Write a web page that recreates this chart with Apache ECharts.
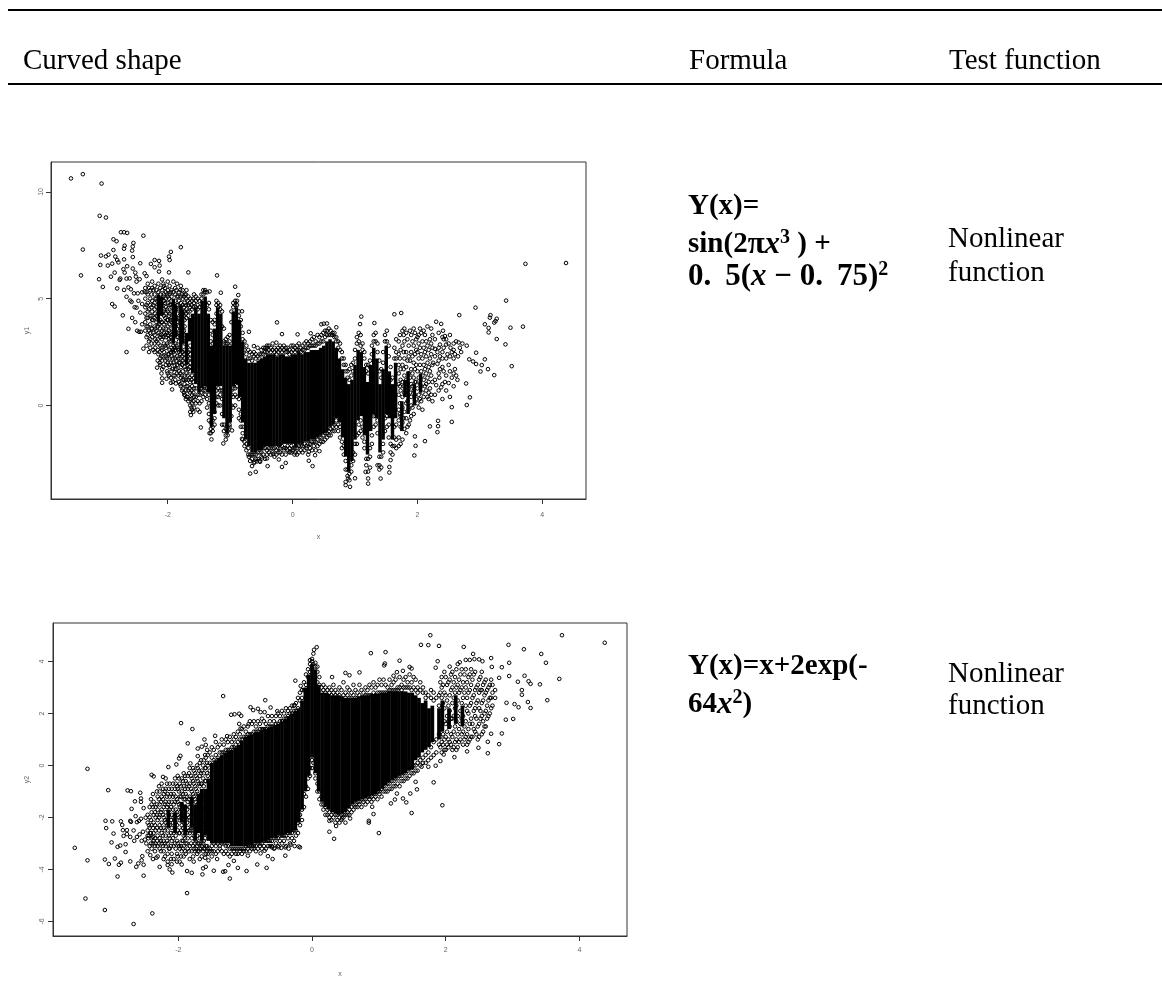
<!DOCTYPE html>
<html><head><meta charset="utf-8">
<style>html,body{margin:0;padding:0;background:#fff}#c{width:1162px;height:983px}</style>
<script src="https://cdn.jsdelivr.net/npm/echarts@6/dist/echarts.min.js"></script></head>
<body><div id="c"></div>
<script>
const headers=['Curved shape','Formula','Test function'];
const xTicks=[-2,0,2,4];
const y1Ticks=[0,5,10];
const y2Ticks=[-6,-4,-2,0,2,4];

// Panel 1: outlying points, x,y pairs
const y1Outer=[-3.55,10.63,-3.36,10.83,-3.06,10.39,-3.09,8.88,-2.99,8.8,-3.36,7.3,-3.39,6.09,-2.75,8.11,-2.7,8.11,-2.65,8.08,-2.39,7.95,-2.87,7.78,-2.82,7.69,-1.79,7.41,-2.55,7.61,-2.56,7.44,-2.69,7.48,-2.7,7.34,-2.57,7.25,-2.56,6.95,-2.87,7.28,-1.95,7.19,-1.98,6.97,-1.97,6.81,-3.07,7.02,-2.99,6.98,-2.95,7.06,-2.84,6.97,-2.7,6.84,-3.08,6.58,-2.96,6.55,-2.89,6.64,-2.81,6.81,-2.79,6.7,-2.44,6.66,-2.21,6.81,-2.14,6.77,-2.27,6.63,-2.13,6.55,-2.21,6.47,-2.14,6.27,-1.98,6.23,-1.67,6.23,-1.21,6.09,-0.92,5.56,-0.87,5.17,-1.15,5.28,-1.33,5.34,-2.65,6.52,-2.71,6.38,-2.56,6.41,-2.69,6.22,-2.85,6.22,-2.91,6.03,-3.1,5.91,-3.04,5.55,-2.81,5.48,-2.76,5.94,-2.77,5.88,-2.66,5.94,-2.61,5.95,-2.52,6.22,-2.51,6.03,-2.5,5.8,-2.45,5.91,-2.37,6.19,-2.34,6.06,-2.63,5.53,-2.59,5.44,-2.7,5.41,-2.54,5.25,-2.66,5.09,-2.6,4.91,-2.48,5.25,-2.41,5.3,-2.37,5.33,-2.5,4.58,-2.89,4.75,-2.85,4.63,-2.72,4.22,-2.63,3.59,-2.66,2.5,-2.39,2.66,-2.17,1.77,-2.09,1.27,-2.09,1.06,-2.02,1.25,-1.95,1.06,-1.93,0.75,-1.87,1.03,-1.73,0.48,-1.63,-0.45,-1.47,-1.03,-1.33,-1.3,-1.3,-1.59,-1.11,-1.78,-0.97,-1.17,-0.81,-1.56,-2.58,4.85,-2.53,4.6,-2.47,4.9,-2.44,4.35,-2.41,4.75,-2.57,4.1,-2.52,3.9,-2.49,3.5,-2.46,3.45,-2.43,3.45,-2.41,3.8];
const y1Bottom=[-0.68,-3.19,-0.59,-3.11,-0.65,-2.84,-0.61,-2.64,-0.57,-2.62,-0.52,-2.64,-0.4,-2.84,-0.49,-2.48,-0.31,-2.28,-0.22,-2.53,-0.17,-2.88,-0.11,-2.69,-0.05,-2.17,0.03,-2.3,-0.41,-2.48,-0.7,-2.4,0.26,-2.59,0.26,-2.17,0.32,-2.84,0.36,-2.33,0.43,-2.14,0.85,-3.58,0.85,-3.73,0.89,-3.42,0.92,-3.81,1,-3.41,1.21,-3.66,1.21,-3.42,1.41,-3.42,1.17,-3.11,1.24,-2.91,1.36,-2.8,1.39,-3,1.55,-3.14,1.55,-2.88,1.57,-2.56];
const y1Top=[-0.25,3.89,-0.17,3.34,0.08,3.33,-0.7,3.45,-0.62,2.78,-0.26,2.94,-0.41,2.7,-0.81,4.41,0.46,3.8,0.5,3.83,0.55,3.84,0.7,3.66,0.29,3.38,1.08,3.81,1.1,4.16,1.31,3.86,1.63,4.27,1.74,4.33];
const y1Right=[4.38,6.67,3.73,6.63,3.42,4.91,2.93,4.58,2.67,4.23,2.3,3.92,3.17,4.23,3.16,4.11,3.27,4.06,3.25,3.95,3.23,3.88,3.08,3.8,3.14,3.63,3.14,3.42,3.49,3.64,3.69,3.69,3.27,3.11,3.41,2.86,3.51,1.84,3.23,1.42,3.13,1.7,3.08,2.16,3.03,1.89,3.01,1.59,2.94,2.47,2.79,2.8,2.83,2.16,2.89,2.06,2.94,1.94,2.78,1.03,2.84,0.38,2.79,0.02,2.55,-0.08,2.55,-0.77,2.33,-0.72,2.33,-0.97,2.32,-1.25,2.2,-0.98,2.12,-1.67,1.95,-2.34,1.97,-1.89,1.96,-1.45,2.38,3.82,2.41,3.5,2.44,3.25,2.42,3.1,2.46,2.85,2.5,2.9,2.53,2.7,2.58,2.9,2.62,3,2.66,2.95,2.68,2.7,2.7,2.5,2.72,2.9,2.65,2.3,2.6,2.4,2.55,2.5,2.48,2.4,2.42,2.7,2.36,2.85,2.4,2.2,2.36,2.3,2.32,2.5,2.28,2.65,2.25,2,2.32,1.95,2.36,1.7,2.42,1.6,2.5,1.9,2.6,1.7,2.62,1.4,2.64,1.2,2.55,1.3,2.5,1.05,2.44,1.1,2.38,0.85,2.35,1.3,2.3,0.95];

// Panel 1: strands of points, each row is x followed by the y of its points
const y1StrandsLeft=[
[-2.36,5.5,5,4.6,4.3,3.9,3.5],[-2.32,5.7,5.2,4.8,4.4,4.1,3.7,3.3],[-2.28,5.4,5,4.7,4.2,3.8,3.4,3.1,2.7],[-2.25,5.8,5.5,4.9,4.4,4,3.6,3.2],
[-2.21,5.6,5.2,4.8,4.5,4.1,3.7,3.3,2.9,2.5],[-2.18,5.4,5,4.6,4.2,3.9,3.5,3],[-2.15,5.7,5.3,3.8,3.4,2.9,2.4],[-2.12,5.5,5.2,4,3.6,3.2,2.8,2.2,1.9],
[-2.09,5.9,5.4,5,4.7,4.3,3.9,3.5,3.1,2.6,2.1,1.7],[-2.06,5.6,5.2,4.9,4.5,4.2,3.8,3.4,2.9,2.5],[-2.03,5.3,5,4.6,4.3,3.9,3.6,3.2,2.7,2.3,1.9],[-2,5.8,5.4,5.1,4.8,4.4,4,3.7,3.3,2.8,2.4,2,1.5],
[-1.97,5.6,5.2,4.7,4.3,3.8,3.4,3,2.6,2.2,1.8],[-1.94,5.4,5.1,4.9,4.6,4.4,4.1,3.9,3.6,3.3,3,2.7,2.3,1.6],[-1.91,5.8,5.3,2.8,2.5,2,1.4],[-1.88,5.5,5.2,4.9,2.9,2.6,2.2,1.7,1.2],
[-1.85,5.7,5.1,4.7,4.3,3.9,3.6,3.2,2.7,2.3,1.9,1.5],[-1.82,5.3,4.9,4.5,4.1,3.7,3.4,3,2.5,2,1.6,1.1],[-1.79,5.6,5.1,4.8,2.2,1.8,1.3,0.9],[-1.76,5.4,5,4.7,2.5,2.1,1.6,1.2,0.8],
[-1.73,5.2,4.8,4.4,4,3.7,3.3,2.9,2.6,2.2,1.8,1.4,1,0.5],[-1.7,5.4,5,4.5,4.1,1.5,0.9,0.4],[-1.67,5.1,4.7,4.2,2.5,2.1,1.7,1.2,0.7,0.2],[-1.64,5,4.6,2.8,2.4,2,1.6,1.1,0.6,0,-0.3],
[-1.61,4.9,4.5,1.4,0.9,0.5,0.1,-0.2],[-1.58,5.2,4.8,1.3,0.8,0.4,-0.1]];
const y1StrandsLeft2=[
[-2.34,5.3,4.7,4.1,3.7,3.2,2.8],[-2.3,5.5,4.5,3.5,3,2.5],[-2.26,5.2,4.6,4.2,3.6,2.9],[-2.23,5.4,4.7,4,3.4,2.6],[-2.2,5,4.3,3.6,3.1,2.7],[-2.16,3.7,3.1,2.6,2.1],[-2.13,3.8,3.3,2.5,2],[-2.1,3.9,3.3,2.7,2.3,1.5],
[-2.07,5.7,5.1,4.4,3.6,3.2,2.3,1.8],[-2.04,5.5,4.8,4.1,3.3,2.8,2.1],[-2.01,5.2,4.5,4,3.4,2.9,2.2,1.6],[-1.98,5,4.2,3.5,3.1,2.4,1.9,1.4],[-1.95,5.3,4.7,4,3.2,2.5,2,1.3],[-1.92,2.6,2.2,1.7,1.1],[-1.89,2.7,2.4,1.9,1.4],[-1.86,5.4,4.5,4.1,3.4,2.8,2.1,1.7],
[-1.83,5.1,4.7,3.9,3.2,2.6,2.2,1.4],[-1.8,5.4,2.4,2,1.5,1],[-1.77,5.2,2.3,1.9,1.4,0.7],[-1.74,5.1,4.6,4.2,3.5,3,2.4,2,1.2,0.6],[-1.71,5.2,4.7,4.3,1.7,1.2,0.7,0.3],[-1.68,4.9,4.4,2.3,1.9,1.4,0.9,0.4],[-1.65,4.8,4.4,2.6,2.2,1.8,1.3,0.8,0.3],[-1.62,4.7,1.2,0.7,0.3,-0.1],[-1.59,5,4.6,1.1,0.6,0.2,-0.3]];
const y1StrandsPillars=[
[-1.55,5.1,4.9,4.6,0.8,0.4,0.1],[-1.52,5,4.7,4.5,0.5,0.2,-0.2],[-1.49,4.9,4.6,0.5,0.1,-0.3],[-1.46,5.2,5,0.8,0.6,0.2],[-1.43,5.4,5.2,0.7,0.4,0.9],[-1.4,5.4,5.3,0.7,0.5],[-1.37,5.3,4.7,0.8,0.3,-0.1],[-1.34,4.8,4.5,0.5,0.1,-0.4,-0.7],
[-1.31,4,3.5,3,-1.1,-0.8,-1.3],[-1.28,3.9,3.3,2.9,-1,-0.7,-1.2],[-1.25,4,3.8,-0.6,-0.3,-0.9],[-1.22,4.9,4.7,4.3,0.7,0.1,0.4],[-1.19,4.8,4.6,0.8,0.4,0],[-1.16,4.7,4.5,0.7,0.5,0],[-1.13,4.4,3.7,0.7,0.3,-0.4,-0.9],[-1.1,3.6,3,2.9,-0.9,-1.2],
[-1.07,3.1,2.9,-1.4,-1.1,-1.6],[-1.04,3.2,2.9,-1.4,-1,-1.2],[-1.01,3.3,3,2.8,-1,-0.7,-0.9],[-0.98,4.4,3.9,0.7,0.5,0,-0.5],[-0.95,4.8,4.6,0.8,0.4,-0.1],[-0.92,4.9,4.7,0.8,0.5,0],[-0.89,4.9,4.7,0.9,0.4],[-0.86,4.4,4.2,0.3,-0.2,-0.6],[-0.83,4,3.7,-0.7,-1,-0.4]];
const y1StrandsCentre=[
[-0.8,3.4,3.1,-1,-1.3,-1.6],[-0.77,3,2.6,-1.7,-1.9],[-0.74,2.8,2.4,-1.8,-2.1],[-0.71,2.6,2.2,-2,-2.3],[-0.68,2.5,2.2,-2.3,-2.6],[-0.65,2.4,2.1,-2.3,-2.5],[-0.62,2.3,2.5,-2.3,-2.7],[-0.59,2.4,2.2,-2.3,-2.5],
[-0.56,2.7,2.3,-2.2,-2.5],[-0.53,2.4,2.2,-2.2,-2.6],[-0.5,2.6,2.4,-2.2,-2.4],[-0.47,2.7,2.4,-2,-2.3],[-0.44,2.5,2.7,-2,-2.5],[-0.41,2.8,2.5,-2.1,-2.3],[-0.38,2.6,2.8,-2,-2.2],[-0.35,2.5,2.7,-2,-2.3],
[-0.32,2.9,2.6,-2,-2.2],[-0.29,2.7,2.5,-2,-2.4],[-0.26,2.6,2.4,-2.1,-2.3],[-0.23,2.5,2.7,-2,-2.2],[-0.2,2.6,2.8,-2,-2.2],[-0.17,2.7,2.5,-1.9,-2.3],[-0.14,2.6,2.8,-2,-2.1],[-0.11,2.5,2.7,-2,-2.3],
[-0.08,2.7,2.5,-1.9,-2.1],[-0.05,2.6,2.4,-2,-2.2],[-0.02,2.8,2.5,-1.9,-2.2],[0.01,2.6,2.8,-2,-2.1],[0.04,2.5,2.7,-2,-2.2],[0.07,2.8,2.6,-2,-2.3],[0.1,2.6,2.9,-1.9,-2.2],[0.13,2.7,2.5,-1.9,-2.1],
[0.16,2.8,2.6,-1.9,-2.2],[0.19,2.6,2.9,-1.8,-2.1],[0.22,2.7,3,-1.9,-2],[0.25,2.7,2.9,-1.8,-2.3],[0.28,2.8,3,-1.8,-2],[0.31,2.8,3.1,-1.7,-2.1],[0.34,2.8,3.2,-1.7,-1.9],[0.37,2.8,3,-1.7,-2.1],
[0.4,2.9,3.3,-1.6,-1.9],[0.43,2.9,3.2,-1.5,-1.8],[0.46,3,3.3,-1.5,-1.7],[0.49,3,3.4,-1.4,-1.7],[0.52,3.2,3.5,-1.3,-1.6],[0.55,3.3,3.5,-1.3,-1.5],[0.58,3.3,3.6,-1.2,-1.4],[0.61,3.3,3.5,-1.1,-1.4],
[0.64,3.3,3.4,-1,-1.2],[0.67,3.2,3.4,-0.9,-1.2],[0.7,3,3.2,-0.7,-1],[0.73,3,2.7,-0.9,-1.2],[0.76,2.6,2.9,-1,-1.5],[0.79,2.2,2.5,-1.7,-2],[0.82,1.9,2.2,-1.9,-2.3],[0.85,1.6,1.9,-2.6,-3],
[0.88,1.3,1.6,-3,-3.3],[0.91,1.2,1.7,-3.2,-3.5],[0.94,1.4,1.9,-2.8,-3.1],[0.97,1.6,2,-2.2,-2.6],[1,2.2,2.6,-1.8,-2.3],[1.03,2.9,3.2,-1.4,-1.8],[1.06,3,3.4,-0.9,-1.3],[1.09,2.8,3.3,-0.7,-1.2],
[1.12,2.9,2.6,-1,-1.5],[1.15,2.2,2.5,-1.7,-2],[1.18,1.6,1.9,-2.5,-2.8],[1.21,1.5,1.9,-2.5,-3.1],[1.24,1.8,2.1,-2,-2.4],[1.27,2.4,2.8,-1.4,-1.8],[1.3,3,3.3,-0.5,-1],[1.33,3,3.4,-0.5,-0.9],
[1.36,2.5,2.9,-0.7,-1.3],[1.39,1.6,2.1,-2.4,-2.8],[1.42,1.3,1.7,-2.4,-2.9],[1.45,2,2.5,-1.8,-2.2],[1.48,3,3.3,-0.6,-1.2],[1.51,3,3.5,-0.5,-1],[1.54,2.3,2.8,-0.9,-1.5],[1.57,1.2,1.8,-1.8,-2.2],
[1.6,0.7,1.3,-1.9,-2.3],[1.63,2.2,2.7,-1,-1.5,-1.9],[1.66,2.2,2.5,3.1,-0.9,-1.6,-2],[1.7,0.5,1,1.5,1.9,2.4,3,-0.2,-0.7,-1.5,-1.9],[1.73,0.7,1.2,1.7,2.6,-0.5,-1,-1.8],[1.76,0.4,1.1,1.9,2.8,3.5,-0.1,-0.8,-1.6],
[1.79,0.6,1.4,2.2,3,3.6,-0.3,-1.1],[1.82,0.5,1.2,1.8,2.5,3.4,0.1,-0.6,-1.3],[1.86,0.8,1.5,2.3,2.8,-0.2,-0.9],[1.9,0.4,1,1.7,2.5,3.3,0,-0.5],[1.94,0.7,1.3,2,2.8,3.6,-0.4],[1.98,0.3,1.1,1.9,2.6,3.1],
[2.02,0.5,1.3,2.2,2.9,3.3,-0.1],[2.06,0.9,1.6,2.4,3.4,0.2],[2.1,0.4,1.2,1.9,2.7,3.5],[2.14,0.7,1.5,2.3,3,1],[2.18,0.3,1.1,1.8,2.6,0.6],[2.22,0.5,1.4,2.4,2.9,3.6]];
const y1StrandsRight2=[
[1.72,0.1,0.9,2.2,3.3,-0.4],[1.78,0.9,1.7,2.5,3.3,-0.6],[1.84,0.2,1,2.1,3.1,-1],[1.88,0.6,1.3,2.1,3.5,-0.7],[1.92,0.9,1.5,2.3,3,-0.1],[1.96,0.5,1.1,1.7,2.4,3.4],[2,0.8,1.6,2.5,3.2,0.1],[2.04,0.3,1,1.9,2.7,3.6],
[2.08,0.6,1.4,2.2,3,-0.2],[2.12,0.9,1.7,2.5,3.3],[2.16,0.4,1.3,2,2.8,3.7],[2.2,0.8,1.6,2.2,3.1],[2.24,0.2,1.1,1.9,2.7,3.3],[2.28,0.5,1.2,2.3,3.1],[2.34,0.7,1.5,2.1,2.7,3.4],[2.4,0.3,1,1.8,2.5,3.2],[2.46,0.7,1.4,2.2,3.1],[2.52,0.4,1.6,2.3,3.3],[2.58,0.9,1.5,2.2,2.6]];

// Panel 1: dark columns of overlapping points, x with low and high edge
const y1BandX=[-1.5,-1.45,-1.4,-1.35,-1.3,-1.25,-1.2,-1.15,-1.1,-1.05,-1,-0.95,-0.9,-0.85,-0.8,-0.75,-0.7,-0.65,-0.6,-0.55,-0.5,-0.45,-0.4,-0.35,-0.3,-0.25,-0.2,-0.15,-0.1,-0.05,0,0.05,0.1,0.15,0.2,0.25,0.3,0.35,0.4,0.45,0.5,0.55,0.6,0.65,0.7,0.75,0.8,0.85,0.9,0.95,1,1.05,1.1,1.15,1.2,1.25,1.3,1.35,1.4,1.45,1.5,1.55,1.6];
const y1BandLow=[0.6,0.8,0.9,0.6,-1,-0.4,0.9,0.9,-0.6,-1.3,-0.8,0.9,1,0.4,-0.8,-1.6,-1.9,-2.2,-2.2,-2.1,-2.1,-1.9,-1.9,-1.9,-1.9,-1.9,-1.9,-1.8,-1.8,-1.8,-1.8,-1.9,-1.8,-1.8,-1.7,-1.7,-1.6,-1.6,-1.5,-1.4,-1.3,-1.2,-1,-0.9,-0.6,-0.8,-1.5,-2.4,-3.1,-2.6,-1.6,-0.7,-0.5,-1.4,-2.3,-1.2,-0.4,-0.6,-2.2,-1.6,-0.4,-0.6,-1.6];
const y1BandHigh=[4.3,4.9,5.1,4.3,2.8,3.6,4.6,4.3,2.8,2.8,2.8,4.4,4.6,4,3,2.2,2,2,2,2.1,2.2,2.3,2.4,2.4,2.4,2.3,2.4,2.4,2.3,2.3,2.4,2.4,2.5,2.4,2.5,2.5,2.6,2.6,2.6,2.7,2.8,3,3.1,3,2.7,2.2,1.7,1.3,1,1.2,1.9,2.6,2.5,1.8,1.1,1.9,2.7,2.2,1,1.7,2.8,1.6,1];
// Panel 1: shorter dark patches beside the main mass
const y1PatchX=[-2.15,-2.1,-1.91,-1.88,-1.79,-1.76,-1.7,-1.65,-1.6,-1.55,1.65,1.75,1.8,1.85,1.95,2.05];
const y1PatchLow=[3.9,4.2,2.9,3.2,2.5,2.9,1.9,3,1.5,1,-0.6,-1.2,0.4,-0.4,0,0.6];
const y1PatchHigh=[5.2,5.1,5,4.7,4.7,4.5,3.4,4.1,4.3,4.6,2,0.2,1.2,1.6,1,1.5];

// Panel 2: outlying points, x,y pairs
const y2Left=[-3.55,-3.17,-3.36,-0.13,-3.36,-3.65,-3.39,-5.12,-3.1,-5.56,-2.67,-6.1,-2.39,-5.69,-1.87,-4.91,-3.05,-0.95,-3.09,-2.13,-2.99,-2.15,-3.08,-2.41,-2.97,-2.62,-3,-2.96,-3.1,-3.62,-3.04,-3.79,-2.95,-3.58,-2.91,-4.27,-2.89,-3.82,-2.86,-3.74,-2.91,-3.13,-2.87,-3.08,-2.79,-3.33,-2.79,-3.03,-2.86,-2.15,-2.84,-2.29,-2.83,-2.49,-2.82,-2.71,-2.77,-2.49,-2.77,-2.64,-2.72,-2.13,-2.71,-2.17,-2.67,-2.5,-2.62,-2.18,-2.64,-1.95,-2.59,-2.13,-2.56,-2.05,-2.49,-2.01,-2.76,-0.96,-2.71,-0.99,-2.65,-1.38,-2.7,-1.67,-2.57,-1.05,-2.56,-1.27,-2.56,-1.4,-2.52,-1.64,-2.72,-3.69,-2.63,-3.9,-2.6,-3.77,-2.52,-3.82,-2.52,-4.24,-2.54,-3.49,-2.55,-3.65,-2.4,-0.36,-2.37,-0.42,-2.23,-0.44,-2.19,-0.5,-2.15,-0.06,-2.03,0.04,-2.72,-2.75,-2.66,-2.9,-2.62,-2.75,-2.58,-2.65,-2.53,-2.55,-2.55,-2.9,-2.5,-2.85,-2.48,-3,-2.45,-2.8,-2.42,-2.6,-2.38,-2.75,-2.46,-3.3,-2.42,-3.45,-2.35,-3.3,-2.38,-3.6,-2.33,-3.55,-2.28,-3.9,-2.13,-4,-2.09,-4.12,-2.16,-3.83,-2.02,-3.7,-1.95,-3.81,-1.87,-4.06,-1.8,-4.13];
const y2Top=[-1.96,1.63,-1.79,1.4,-1.86,0.85,-1.99,0.27,-1.97,0.37,-1.82,0.08,-1.71,0.36,-1.61,1,-1.71,0.65,-1.65,0.72,-1.59,0.79,-1.45,1.14,-1.33,2.67,-1.27,1.13,-1.17,1,-1.21,1.95,-1.16,1.97,-1.09,1.99,-1.06,1.91,-0.92,2.24,-0.88,2.13,-0.81,2.18,-0.7,2.51,-0.77,2.05,-0.71,2.05,-0.62,2.23,-0.52,2.09,-1.09,1.6,-1.07,1.42,-0.95,1.59,-0.25,3.26,-0.17,3.06,-0.26,2.32,-0.03,4.05,0,4.1,0.02,4.3,0.03,4.45,0.07,4.55,0.05,3.95,0.08,3.8];
const y2Bottom=[-1.64,-4.19,-1.63,-3.96,-1.59,-3.9,-1.47,-4.05,-1.33,-4.09,-1.3,-4.07,-1.23,-4.35,-1.11,-3.94,-0.98,-4.06,-0.82,-3.81,-0.68,-3.94,-1.25,-3.83,-1.17,-3.67,-0.96,-3.47,-0.77,-3.38,-0.66,-3.49,-0.59,-3.6,-0.4,-3.47,-0.71,-3.28,-1.68,-3.6,-1.6,-3.55,-1.55,-3.65,-1.5,-3.5,-1.42,-3.6,-0.6,-3.15,-0.56,-3.18,-0.5,-3.15,-0.46,-3.17,-0.4,-3.15,-0.35,-3.2,-0.32,-3.05,-0.26,-3.1,-0.2,-3.12,-0.18,-3.15];
const y2Right=[4.38,4.72,3.74,5.01,1.77,5.01,1.63,4.64,1.74,4.63,1.9,4.6,2.27,4.56,2.94,4.64,3.17,4.47,3.43,4.29,3.5,3.95,2.95,3.95,0.88,4.32,1.1,4.36,1.31,4.03,1.09,3.92,1.08,3.85,2.41,4.29,2.68,4.13,2.3,4.06,2.36,4.06,2.43,4.09,2.5,4.08,2.55,4.01,1.88,4.01,1.85,3.76,2.21,3.97,2.69,3.79,2.84,3.78,1.46,3.79,1.49,3.73,1.36,3.64,1.27,3.59,1.22,3.45,0.71,3.58,0.5,3.56,0.56,3.47,0.3,3.4,3.18,3.45,2.95,3.44,2.8,3.37,3.08,3.22,3.24,3.24,3.27,3.14,3.41,3.12,3.7,3.33,3.14,2.9,3.14,2.72,3.52,2.51,3.23,2.44,3.27,2.21,3.09,2.24,3.03,2.36,2.91,2.41,3.01,1.79,2.9,1.76,2.84,1.23,2.68,1.22,2.8,0.82,2.63,0.91,2.63,0.47,2.49,0.68,2.32,0.54,2.13,0.32,1.95,-1.53,1.82,-0.65,1.49,-1.83,1,-2.6,0.85,-2.13,0.85,-2.2,0.33,-2.82,0.26,-2.55,0.26,-2.13,0.36,-2.33,0.45,-2.04,0.57,-2.04,0.9,-1.59,0.92,-1.87,1.18,-1.46,1.24,-1.31,1.41,-1.42,1.47,-1.08,1.57,-0.92,1.55,-0.63,1.36,-1.27,1.27,-1.08,1.85,-0.01,1.92,0.17,1.97,0.42,1.74,-0.05,1.64,-0.05];

// Panel 2: strands of points, each row is x followed by the y of its points
const y2StrandsLeft=[
[-2.46,-1.9,-2.2,-2.5,-2.7],[-2.43,-1.6,-2,-2.4,-3.1],[-2.4,-1.5,-1.8,-2.3,-2.8,-3.2],[-2.37,-1.4,-1.9,-2.2,-2.6,-2.9],[-2.34,-1.6,-2,-2.5,-3],[-2.31,-1.2,-1.7,-2.1,-2.7,-3.1,-3.5],[-2.28,-1,-1.5,-1.9,-2.3,-2.8,-3.2],[-2.25,-0.7,-1.2,-1.7,-2.2,-2.6,-3],
[-2.22,-1.1,-1.6,-2,-2.4,-2.9,-3.3,-3.6],[-2.19,-0.9,-1.4,-1.8,-2.2,-2.7,-3.1],[-2.16,-1.1,-1.5,-2.1,-2.5,-3,-3.4,-3.7],[-2.13,-0.7,-1.2,-1.7,-2.3,-2.8,-3.2],[-2.1,-0.9,-1.4,-1.9,-2.4,-2.9,-3.4,-3.8],[-2.07,-1.1,-1.5,-2,-2.6,-3.1,-3.6],[-2.04,-0.7,-1.2,-1.7,-2.2,-2.7,-3.2],[-2.01,-0.4,-0.9,-1.4,-1.9,-2.5,-3,-3.5],
[-1.98,-0.7,-1.2,-1.6,-2.1,-2.6,-3.2,-3.7],[-1.95,-0.5,-1,-1.5,-2,-2.3,-2.9,-3.3],[-1.92,-0.3,-0.8,-1.3,-1.8,-2.2,-2.7,-3.1,-3.5],[-1.89,-0.6,-1.1,-1.6,-2,-2.5,-3,-3.4],[-1.86,-0.4,-0.9,-1.4,-1.9,-2.4,-2.8,-3.2],[-1.83,-0.1,-0.7,-1.2,-1.6,-2.1,-2.6,-3.1,-3.6],[-1.8,-0.5,-1,-1.4,-1.9,-2.3,-2.8,-3.3],[-1.77,-0.2,-0.7,-1.2,-1.7,-2.2,-2.7,-3.2,-3.7],
[-1.74,-0.4,-0.9,-1.4,-1.9,-2.4,-2.9,-3.2],[-1.71,-0.1,-0.6,-1.1,-1.5,-2,-2.5,-3,-3.3],[-1.68,0.1,-0.4,-0.8,-1.3,-1.8,-2.3,-2.8,-3.2],[-1.65,-0.2,-0.7,-1.2,-1.7,-2.2,-2.7,-3.1,-3.5],[-1.62,0.2,-0.3,-0.8,-1.3,-1.9,-2.4,-2.9,-3.2],[-1.59,0.3,-0.1,-0.6,-1.1,-1.6,-2.1,-2.6,-3.1,-3.4],[-1.56,0.4,0,-0.4,-3.2,-3.4],[-1.53,0.5,0.1,-0.2,-3.2,-3.3]];
const y2StrandsLeft2=[
[-2.44,-2.3,-2.7],[-2.41,-1.3,-2.1,-2.6,-3],[-2.38,-1.1,-1.6,-2.4,-3],[-2.35,-1.8,-2.3,-2.8,-3.1],[-2.32,-1,-1.5,-1.9,-2.4,-2.9],[-2.29,-0.8,-1.3,-2,-2.5,-3],[-2.26,-1.4,-1.8,-2.4,-2.9,-3.3],[-2.23,-0.9,-1.3,-1.9,-2.7,-3.1],
[-2.2,-1,-1.5,-2.1,-2.5,-3,-3.5],[-2.17,-0.7,-1.2,-1.6,-2.3,-2.9],[-2.14,-0.9,-1.4,-1.9,-2.7,-3.2],[-2.11,-1.1,-1.6,-2.1,-2.6,-3.1,-3.6],[-2.08,-0.7,-1.2,-1.7,-2.2,-2.8],[-2.05,-0.5,-0.9,-1.4,-1.9,-2.4,-3],[-2.02,-0.8,-1.3,-1.8,-2.3,-2.9,-3.4],[-1.99,-0.5,-1,-1.5,-2,-2.6,-3.1],
[-1.96,-0.8,-1.2,-1.7,-2.5,-3.1,-3.5],[-1.93,-0.6,-1.1,-1.6,-2.4,-2.9,-3.2],[-1.9,-0.4,-0.9,-1.3,-2.8,-3.3],[-1.87,-0.7,-1.2,-1.7,-2.2,-2.6,-3],[-1.84,-0.3,-0.8,-1.3,-2,-2.5,-3.3],[-1.81,-0.4,-0.9,-1.5,-2.5,-3],[-1.78,-0.1,-0.6,-1.1,-2.5,-3.1,-3.5],[-1.75,-0.3,-0.8,-1.3,-3,-3.3],
[-1.72,0,-0.5,-1,-2.7,-3.1,-3.4],[-1.69,-0.2,-0.7,-3,-3.3],[-1.66,0.2,-0.3,-0.7,-3,-3.2],[-1.63,0,-0.5,-3,-3.3],[-1.6,0.4,-0.1,-0.6,-2.8,-3.2],[-1.57,0.6,0.1,-0.3,-3.1,-3.3]];
const y2StrandsEdges=[
[-1.5,0.7,0.3,-3.1,-3.3],[-1.47,0.6,0.2,-3,-3.3],[-1.44,0.9,0.4,-3.1,-3.4],[-1.41,0.7,0.3,-3,-3.3],[-1.38,0.8,0.5,-3.1,-3.2],[-1.35,1,0.5,-3,-3.3],[-1.32,0.8,0.5,-3,-3.4],[-1.29,1,0.6,-3.1,-3.3],[-1.26,0.9,0.6,-3.1,-3.4],[-1.23,1.1,0.6,-3.2,-3.5],[-1.2,0.9,0.7,-3.2,-3.4],[-1.17,1.2,0.7,-3.2,-3.3],[-1.14,1.1,0.8,-3.2,-3.4],[-1.11,1.3,0.9,-3.2,-3.4],[-1.08,1.2,1,-3.2,-3.3],[-1.05,1.4,1,-3.2,-3.4],
[-1.02,1.5,1.1,-3.2,-3.3],[-0.99,1.3,1.1,-3.1,-3.3],[-0.96,1.5,1.2,-3.1,-3.2],[-0.93,1.7,1.2,-3.1,-3.3],[-0.9,1.6,1.2,-3.1,-3.2],[-0.87,1.7,1.3,-3.1,-3.2],[-0.84,1.5,1.3,-3.1,-3.3],[-0.81,1.7,1.3,-3,-3.2],[-0.78,1.6,1.4,-3,-3.1],[-0.75,1.8,1.4,-3,-3.2],[-0.72,1.7,1.4,-2.9,-3.1],[-0.69,1.6,1.4,-2.9,-3.2],[-0.66,1.9,1.5,-2.9,-3.1],[-0.63,1.7,1.5,-2.9,-3.1],[-0.6,1.9,1.5,-2.9,-3.1],[-0.57,1.7,1.5,-2.8,-3.2],
[-0.54,1.9,1.6,-2.8,-3],[-0.51,2,1.6,-2.8,-3.1],[-0.48,1.9,1.7,-2.7,-2.9],[-0.45,2.1,1.7,-2.7,-3],[-0.42,2,1.8,-2.7,-2.9],[-0.39,2.2,1.8,-2.7,-3.1],[-0.36,2.1,1.9,-2.6,-2.8],[-0.33,2.2,2,-2.6,-3],[-0.3,2.3,2,-2.6,-2.8],[-0.27,2.3,2.1,-2.5,-2.9],[-0.24,2.4,2.1,-2.5,-2.7],[-0.21,2.6,2.2,-2.2,-2.6],[-0.18,2.8,2.5,-1.9,-2.3],[-0.15,2.9,2.6,-1.7,-2.1],[-0.12,3.2,2.9,-1.1,-1.6],[-0.09,3.5,3.1,-0.8,-1.2],
[-0.06,3.7,3.4,-0.5,-0.9],[-0.03,3.9,3.6,-0.1,-0.4],[0,4,3.8,0.2,-0.1],[0.02,3.9,0.1],[0.05,3.8,-0.3,-0.5],[0.08,3.6,3.2,-0.7,-1],[0.11,3.1,3.4,-1,-1.3],[0.14,3,2.8,-1.2,-1.5],[0.17,2.9,3.1,-1.5,-1.7],[0.2,3,2.8,-1.6,-1.9],[0.23,2.9,2.7,-1.7,-1.9],[0.26,2.8,3,-1.8,-2],[0.29,2.9,2.7,-1.9,-2.1],[0.32,2.8,3.1,-1.8,-2],[0.35,2.9,2.7,-1.9,-2.2],[0.38,2.8,2.6,-1.9,-2.1],
[0.41,2.7,3,-2,-2.2],[0.44,2.9,2.6,-1.9,-2.1],[0.47,2.7,3.2,-1.9,-2],[0.5,2.8,2.6,-1.9,-2.2],[0.53,2.7,3,-1.8,-1.9],[0.56,2.6,2.9,-1.7,-1.9],[0.59,2.8,2.6,-1.6,-1.8],[0.62,2.7,3.1,-1.5,-1.7],[0.65,2.6,2.9,-1.5,-1.6],[0.68,2.8,2.6,-1.4,-1.6],[0.71,3.1,2.7,-1.4,-1.5],[0.74,2.6,2.9,-1.3,-1.6],[0.77,2.8,2.6,-1.3,-1.4],[0.8,3,2.7,-1.3,-1.5],[0.83,2.7,2.9,-1.2,-1.4],[0.86,3.1,2.7,-1.2,-1.3],
[0.89,2.7,3,-1.2,-1.4],[0.92,3.2,2.8,-1.1,-1.3],[0.95,2.7,3,-1.1,-1.2],[0.98,2.8,3.1,-1,-1.3],[1.01,3.3,2.8,-1,-1.1],[1.04,2.8,3.1,-0.9,-1.2],[1.07,3.3,2.8,-0.8,-1],[1.1,2.8,3.1,-0.8,-1],[1.13,3,2.8,-0.7,-1],[1.16,3.3,2.9,-0.7,-0.9],[1.19,2.9,3.1,-0.6,-0.9],[1.22,3.2,2.9,-0.6,-0.8],[1.25,2.9,3.3,-0.5,-0.8],[1.28,3,2.9,-0.5,-0.7],[1.31,3.4,3,-0.4,-0.8],[1.34,3.1,2.9,-0.4,-0.6],
[1.37,3.3,3,-0.3,-0.6],[1.4,3,3.4,-0.3,-0.5],[1.43,3,3.2,-0.2,-0.5],[1.46,3.5,3,-0.1,-0.4],[1.49,2.9,3.2,-0.1,-0.3],[1.52,3,3.4,0,-0.3],[1.55,2.9,3.3,0,-0.2],[1.58,3,2.8,0.1,-0.2],[1.62,2.9,3.2,0.2,0],[1.66,2.8,3,0.3,0.1],[1.7,2.8,2.6,0.4,0.1],[1.74,2.7,0.5,0.2],[1.78,2.6,2.9,0.7,0.3],[1.82,2.5,2.8,0.9,0.4],[1.86,2.6,1,0.5],[1.9,2.3,2.7,0.8,1.2]];
const y2StrandsRight=[
[1.94,2.6,3,3.4,1.4,0.9,0.5],[1.98,2.2,2.8,3.6,1.7,1,0.6],[2.02,2.5,3.1,1.9,1.3,0.8],[2.06,2.7,3.3,3.8,2.1,1.5,0.9],[2.1,2.4,3,3.6,1.8,1.1,0.6],[2.14,2.8,3.4,2.2,1.5,0.9],[2.18,2.5,3.1,3.9,1.9,1.2,0.7],[2.22,2.1,2.9,3.5,1.6,1],[2.26,2.6,3.2,1.9,1.3,0.8],[2.3,2.3,3,3.7,1.7,1.1],[2.34,2.8,3.4,2,1.4,0.9],[2.38,2.4,3.1,3.7,1.8,1.1],[2.42,2.7,3.5,2.1,1.4],[2.46,2.4,3,1.8,1.2],[2.5,2.8,3.3,2.2,1.6,1.1],[2.54,2.4,2.9,3.6,1.9,1.2],
[2.58,2.7,3.2,2,1.5],[2.62,2.3,2.9,1.8],[2.66,2.6,3.1,2],[2.7,2.3,2.8,3.1],[2.74,2.6,2.9]];
const y2StrandsRight2=[
[1.92,2.8,3.2,1.6,1.1,0.7],[1.96,2.4,3.1,1.2,0.8],[2,2.7,3.4,1.6,1.1,0.6],[2.04,2.3,3.2,1.7,1,0.7],[2.08,2.9,3.5,1.8,1.2,0.8],[2.12,2.6,3.2,1.9,1.3,0.7],[2.16,2.3,3,3.7,1.7,1,0.6],[2.2,2.8,3.3,1.4,0.9],[2.24,2.4,3,3.7,1.8,1.2],[2.28,2.8,3.5,1.5,1],[2.32,2.1,2.6,3.2,1.2,0.8],[2.36,2.3,2.9,3.5,1.6,1],[2.4,2.6,3.3,1.6,1.1],[2.44,2.2,2.9,3.6,1.9,1.3],[2.48,2.5,3.1,1.5,1],[2.52,2.1,2.9,3.4,1.8],[2.56,2.5,3.1,1.7,1.3],[2.6,2.1,2.8,3.3,1.5],[2.64,2.5,3,1.9],[2.68,2.2,2.6,3.3]];

// Panel 2: dark columns of overlapping points, x with low and high edge
const y2BandX=[-1.5,-1.45,-1.4,-1.35,-1.3,-1.25,-1.2,-1.15,-1.1,-1.05,-1,-0.95,-0.9,-0.85,-0.8,-0.75,-0.7,-0.65,-0.6,-0.55,-0.5,-0.45,-0.4,-0.35,-0.3,-0.25,-0.2,-0.15,-0.1,-0.05,0,0.05,0.1,0.15,0.2,0.25,0.3,0.35,0.4,0.45,0.5,0.55,0.6,0.65,0.7,0.75,0.8,0.85,0.9,0.95,1,1.05,1.1,1.15,1.2,1.25,1.3,1.35,1.4,1.45,1.5];
const y2BandLow=[-3,-3,-3,-3,-3,-3,-3.1,-3.1,-3.1,-3.1,-3.1,-3.05,-3.05,-3,-3,-2.95,-2.9,-2.85,-2.8,-2.75,-2.7,-2.7,-2.65,-2.6,-2.55,-2.5,-2.2,-1.7,-1,-0.4,0.3,-0.3,-1,-1.4,-1.6,-1.7,-1.8,-1.85,-1.9,-1.85,-1.8,-1.65,-1.5,-1.4,-1.35,-1.3,-1.25,-1.2,-1.15,-1.1,-1,-0.9,-0.75,-0.65,-0.55,-0.5,-0.4,-0.35,-0.3,-0.2,-0.15];
const y2BandHigh=[0.1,0.2,0.3,0.4,0.5,0.55,0.6,0.7,0.8,0.95,1.1,1.15,1.2,1.25,1.3,1.35,1.4,1.45,1.5,1.55,1.6,1.7,1.8,1.9,2,2.1,2.2,2.5,3,3.5,3.9,3.7,3.1,2.8,2.8,2.75,2.7,2.7,2.7,2.65,2.6,2.6,2.6,2.6,2.65,2.7,2.7,2.7,2.75,2.75,2.75,2.8,2.8,2.85,2.85,2.85,2.85,2.85,2.85,2.8,2.8];
// Panel 2: shorter dark patches beside the main mass
const y2PatchX=[-2.15,-2.05,-1.95,-1.9,-1.8,-1.75,-1.7,-1.65,-1.6,-1.55,1.55,1.6,1.65,1.7,1.75,1.8,1.9,1.95,2.05,2.15,2.25];
const y2PatchLow=[-2.4,-2.6,-2.2,-2.7,-2.4,-2.9,-2.6,-2.9,-2.7,-2.9,0.2,0.3,0.5,0.6,0.7,0.9,1,1.3,1.4,1.6,1.5];
const y2PatchHigh=[-1.7,-1.8,-1.4,-1.5,-1.2,-1.5,-1.1,-0.9,-0.9,-0.5,2.7,2.6,2.4,2.5,2.2,2.3,2.2,2.5,2.2,2.7,2.3];

const pairs=a=>{const r=[];for(let i=0;i<a.length;i+=2)r.push([a[i],a[i+1]]);return r;};
const strands=a=>a.flatMap(r=>r.slice(1).map(y=>[r[0],y]));
const rows=(x,l,h)=>x.map((v,i)=>[v,l[i],h[i]]);
const COL=0.056;
const band=(gi,d)=>({type:'custom',xAxisIndex:gi,yAxisIndex:gi,silent:true,data:d,
  encode:{x:0,y:[1,2]},
  renderItem(p,api){
    const a=api.coord([api.value(0)-COL/2,api.value(2)]),b=api.coord([api.value(0)+COL/2,api.value(1)]);
    return {type:'rect',shape:{x:a[0],y:a[1],width:b[0]-a[0],height:b[1]-a[1]},style:{fill:'#000'}};
  }});
const rings=(gi,d)=>({type:'scatter',xAxisIndex:gi,yAxisIndex:gi,data:d,symbol:'circle',symbolSize:3.6,silent:true,large:false,progressive:0,
  itemStyle:{color:'rgba(0,0,0,0)',borderColor:'#000',borderWidth:1,opacity:1}});

const gridStyle={show:true,borderColor:'#333',borderWidth:1,backgroundColor:'#fff'};
const tickFont={fontFamily:'Liberation Sans',fontSize:7,color:'#666'};
const xA=(gi,min,max,margin,gap)=>({type:'value',gridIndex:gi,min,max,splitLine:{show:false},
  axisLine:{show:true,onZero:false,lineStyle:{color:'#333'}},
  axisTick:{show:true,length:5,lineStyle:{color:'#333'},customValues:xTicks},
  axisLabel:{...tickFont,margin,customValues:xTicks,formatter:v=>String(v)},
  name:'x',nameLocation:'middle',nameGap:gap,nameTextStyle:{...tickFont}});
const yA=(gi,min,max,ticks,name,margin,gap)=>({type:'value',gridIndex:gi,min,max,splitLine:{show:false},
  axisLine:{show:true,onZero:false,lineStyle:{color:'#333'}},
  axisTick:{show:true,length:5,lineStyle:{color:'#333'},customValues:ticks},
  axisLabel:{...tickFont,margin,rotate:90,customValues:ticks,formatter:v=>String(v)},
  name,nameLocation:'middle',nameGap:gap,nameTextStyle:{...tickFont}});

const serif='Liberation Serif';
const SZ=29;
const T=(text,x,y)=>({type:'text',x,y,silent:true,style:{text,fontFamily:serif,fontSize:SZ,fill:'#000',textVerticalAlign:'middle'}});
const common={fontFamily:serif,fill:'#000',fontWeight:'bold',lineHeight:34};
const mathRich={
  b:{...common,fontSize:SZ},
  c:{...common,fontSize:31},
  i:{...common,fontSize:31,fontStyle:'italic'},
  s:{...common,fontSize:20,verticalAlign:'top'}
};
const F=(text,x,y)=>({type:'text',x,y,silent:true,style:{text,rich:mathRich,fontFamily:serif,fontSize:SZ,fill:'#000',textVerticalAlign:'middle'}});
const rule=y=>({type:'line',silent:true,shape:{x1:8,y1:y,x2:1162,y2:y},style:{stroke:'#000',lineWidth:2}});

const chart=echarts.init(document.getElementById('c'),null,{renderer:'canvas'});
chart.setOption({
  animation:false,
  backgroundColor:'#fff',
  grid:[
    {left:51,top:162,width:535,height:337,...gridStyle},
    {left:53,top:623,width:574,height:313,...gridStyle}
  ],
  xAxis:[xA(0,-3.87,4.7,13,35),xA(1,-3.876,4.713,11,35)],
  yAxis:[yA(0,-4.38,11.4,y1Ticks,'y1',6,20),yA(1,-6.56,5.48,y2Ticks,'y2',7,22)],
  series:[
    band(0,rows(y1BandX,y1BandLow,y1BandHigh)),
    band(0,rows(y1PatchX,y1PatchLow,y1PatchHigh)),
    ...[y1Outer,y1Bottom,y1Top,y1Right].map(a=>rings(0,pairs(a))),
    ...[y1StrandsLeft,y1StrandsLeft2,y1StrandsPillars,y1StrandsCentre,y1StrandsRight2].map(a=>rings(0,strands(a))),
    band(1,rows(y2BandX,y2BandLow,y2BandHigh)),
    band(1,rows(y2PatchX,y2PatchLow,y2PatchHigh)),
    ...[y2Left,y2Top,y2Bottom,y2Right].map(a=>rings(1,pairs(a))),
    ...[y2StrandsLeft,y2StrandsLeft2,y2StrandsEdges,y2StrandsRight,y2StrandsRight2].map(a=>rings(1,strands(a)))
  ],
  graphic:[
    rule(10),rule(84),
    T(headers[0],23,61),T(headers[1],689,61),T(headers[2],949,61),
    F('{b|Y(x)=}',688,207),
    F('{b|sin(2}{c|π}{i|x}{s|3}{b| ) +}',688,245),
    F('{c|0.\u2009 5(}{i|x}{c| − 0.\u2009 75)}{s|2}',688,277),
    T('Nonlinear',948,239),T('function',948,273),
    F('{b|Y(x)=x+2exp(-}',688,667),
    F('{b|64}{i|x}{s|2}{b|)}',688,705),
    T('Nonlinear',948,674),T('function',948,706)
  ]
});
</script></body></html>
